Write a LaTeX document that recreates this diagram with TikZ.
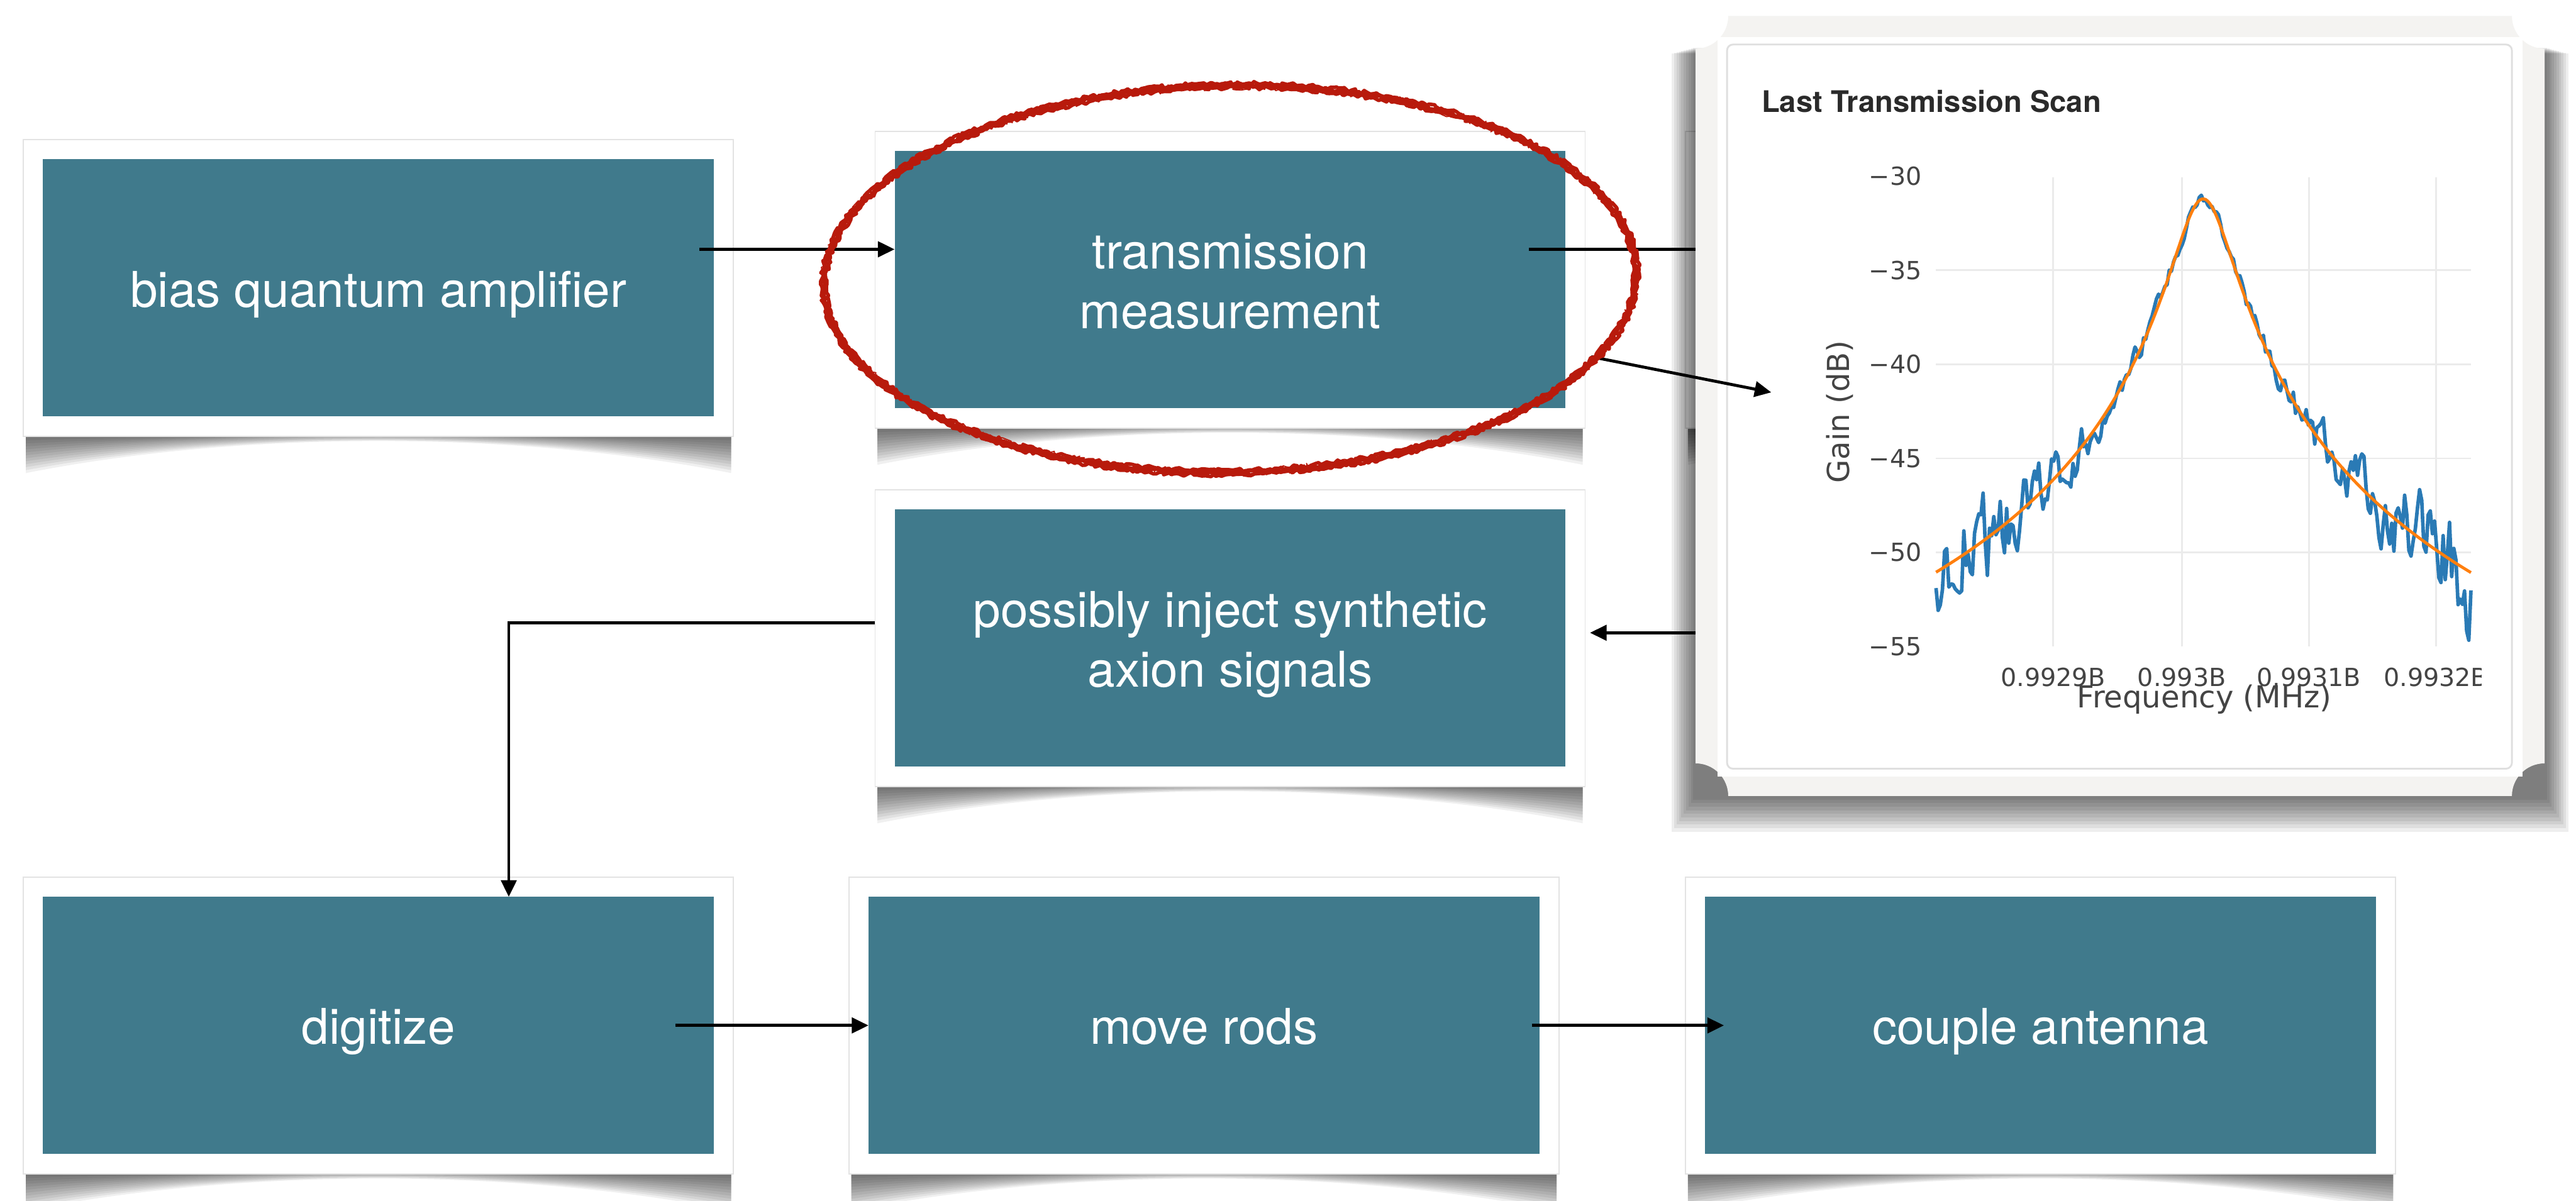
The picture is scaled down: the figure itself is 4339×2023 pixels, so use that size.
\documentclass[tikz,border=0pt]{standalone}
\usepackage{fontspec}
\setmainfont{TeX Gyre Heros}
\newfontfamily\plotfont{DejaVu Sans}
\usetikzlibrary{arrows.meta,calc,decorations.pathmorphing}
\definecolor{tealfill}{HTML}{407A8C}
\definecolor{markred}{HTML}{B81A0C}
\definecolor{plotblue}{HTML}{2A7AB5}
\definecolor{plotorange}{HTML}{FF7F0E}
\definecolor{panelgray}{HTML}{F4F3F1}
\definecolor{gridgray}{HTML}{EBEBEB}
\definecolor{ticktext}{HTML}{444444}
\definecolor{titletext}{HTML}{2A2A2A}
\tikzset{
 tealbox/.style={fill=tealfill, text=white, minimum width=1130pt, minimum height=433pt, inner sep=0pt, align=center, font=\fontsize{83}{100}\selectfont},
 conn/.style={line width=5pt, draw=black},
 arr/.style={conn, -{Triangle[length=28pt,width=26pt]}},
 ticklbl/.style={text=ticktext, font=\plotfont\fontsize{42}{50}\selectfont, inner sep=0pt},
 axtitle/.style={text=ticktext, font=\plotfont\fontsize{51}{60}\selectfont, inner sep=0pt},
 shadowlayer/.style={fill=black, opacity=0.06},
 framebox/.style={fill=white, draw=gray!22, line width=2pt},
}
\newcommand\btext[1]{\raisebox{-12pt}[\height][\depth]{\begin{tabular}{@{}c@{}}#1\end{tabular}}}
\newcommand\boxshadow[2]{%
 \foreach \dc/\dm in {62/-10,57/-10,52/-10,47/-10,42/-10,37/-10,32/-10,27/-10,22/-9,17/-8,12/-6,7/-4}{%
  \fill[shadowlayer] ({#1-594},{#2+240}) -- ({#1-594},{#2+250+\dc}) .. controls ({#1-230},{#2+250+\dm}) and ({#1+230},{#2+250+\dm}) .. ({#1+594},{#2+250+\dc}) -- ({#1+594},{#2+240}) -- cycle;}}
\newcommand\flowbox[4]{%
 \boxshadow{#2}{#3}%
 \filldraw[framebox] ({#2-598},{#3-250}) rectangle ({#2+598},{#3+250});%
 \node[tealbox] (#1) at (#2,#3) {\btext{#4}};}
\begin{document}
\begin{tikzpicture}[x=1pt,y=-1pt]
\useasboundingbox (0,0) rectangle (4339,2023);
\fill[white] (0,0) rectangle (4339,2023);

% box hidden behind the chart panel
\boxshadow{3437}{471}
\node[framebox, minimum width=1196pt, minimum height=500pt, inner sep=0pt] (b7) at (3437,471) {};

\flowbox{b1}{637.5}{485}{bias quantum amplifier}
\flowbox{b2}{2072}{471}{transmission\\measurement}
\flowbox{b3}{2072}{1075}{possibly inject synthetic\\axion signals}
\flowbox{b4}{637.5}{1727.5}{digitize}
\flowbox{b5}{2028}{1727.5}{move rods}
\flowbox{b6}{3437}{1727.5}{couple antenna}

% connectors
\draw[arr] ($(b1.east)+(-25,-65)$) coordinate (s1) -- (s1 -| b2.west);
\draw[conn] ($(b2.east)+(-62,-51)$) -- ($(b7.west)+(60,-51)$);
\draw[arr] ($(b3.east)+(260,-9)$) -- ($(b3.east)+(41,-9)$);
\draw[arr] ($(b3.west)+(-33,-26)$) -| ($(b4.north)+(219.5,0)$);
\draw[arr] ($(b4.east)+(-65,0)$) -- (b5.west);
\draw[arr] ($(b5.east)+(-13,0)$) -- ($(b6.west)+(32,0)$);

% chart panel shadow
\foreach \k in {1,...,10}
 \fill[black,opacity=0.065] ({2856-4*\k},{80+\k}) rectangle ({4286+4*\k},{1341+6*\k});
% chart panel with concave corners
\fill[panelgray] (2911,27) -- (4231,27) arc[start angle=180,end angle=90,radius=55]
 -- (4286,1286) arc[start angle=270,end angle=180,radius=55]
 -- (2911,1341) arc[start angle=0,end angle=-90,radius=55]
 -- (2856,82) arc[start angle=90,end angle=0,radius=55] -- cycle;
\fill[white] (2893,62) rectangle (4249,1308);
\node[draw=gray!25, line width=3pt, fill=white, rounded corners=10pt, minimum width=1322pt, minimum height=1220pt, inner sep=0pt] (chart) at (3570,685) {};
\node[anchor=base west, text=titletext, font=\bfseries\fontsize{50}{60}\selectfont, inner sep=0pt] (ttl) at (2967,189) {Last Transmission Scan};

% grid
\foreach \v in {455.4,613.8,772.2,930.6} \draw[gridgray, line width=3pt] (3261,\v) -- (4162,\v);
\foreach \u in {3458,3675,3889,4103} \draw[gridgray, line width=3pt] (\u,299) -- (\u,1089);

% tick labels
\foreach \lab/\v in {30/297,35/455.4,40/613.8,45/772.2,50/930.6,55/1089}
 \node[ticklbl, anchor=east] (yl\lab) at (3237,\v) {−\lab};
\node[ticklbl, anchor=base] (xl1) at (3458,1156) {0.9929B};
\node[ticklbl, anchor=base] (xl2) at (3675,1156) {0.993B};
\node[ticklbl, anchor=base] (xl3) at (3889,1156) {0.9931B};
\begin{scope}
 \clip (3990,1100) rectangle (4179,1200);
 \node[ticklbl, anchor=base] (xl4) at (4103,1156) {0.9932B};
\end{scope}
\node[axtitle, anchor=base] (xt) at (3713,1192) {Frequency (MHz)};
\node[axtitle, rotate=90] (yt) at (3099,694) {Gain (dB)};

% measured data (correlated noise around the Lorentzian)
\pgfmathsetseed{4242}
\gdef\noisepath{}
\gdef\nprev{0}
\foreach \i in {0,...,250}{%
  \pgfmathsetmacro\tx{3261+\i*3.604}%
  \pgfmathsetmacro\vv{min(abs(\tx-3711)/460,1)}%
  \pgfmathsetmacro\nn{0.5*\nprev+0.9*rand}%
  \pgfmathsetmacro\ty{297+31.68*(1.2+10*log10(1+((\tx-3711)/46)^2))+31.68*(0.25+0.9*\vv+2.0*\vv*\vv)*\nn}%
  \xdef\nprev{\nn}%
  \xdef\noisepath{\noisepath(\tx,\ty)}%
}
\edef\drawnoise{\noexpand\draw[plotblue, line width=6pt, line join=round] plot coordinates {\noisepath};}
\drawnoise
\draw[plotorange, line width=5pt] plot[domain=3261:4162, samples=160, smooth, variable=\t]
 (\t, {297+31.68*(1.2+10*log10(1+((\t-3711)/46)^2))});

% diagonal arrow to chart
\draw[arr] ($(b2.east)+(43,130)$) -- ($(chart.west)+(76,-24)$);

% red hand-drawn ellipse
\begin{scope}[rotate around={1:(2072,470)}]
\foreach \rx/\ry/\sd/\lw/\am in {684/326/1/7/3, 680/322/2/6/3, 688/330/3/6/3, 684/326/4/2.5/6, 684/325/5/2/7} {
 \pgfmathsetseed{\sd}
 \draw[markred, line width=\lw pt, line join=round, decorate, decoration={random steps, segment length=5pt, amplitude=\am pt}] (2072,470) ellipse[x radius=\rx, y radius=\ry];
}
\end{scope}
\end{tikzpicture}
\end{document}
